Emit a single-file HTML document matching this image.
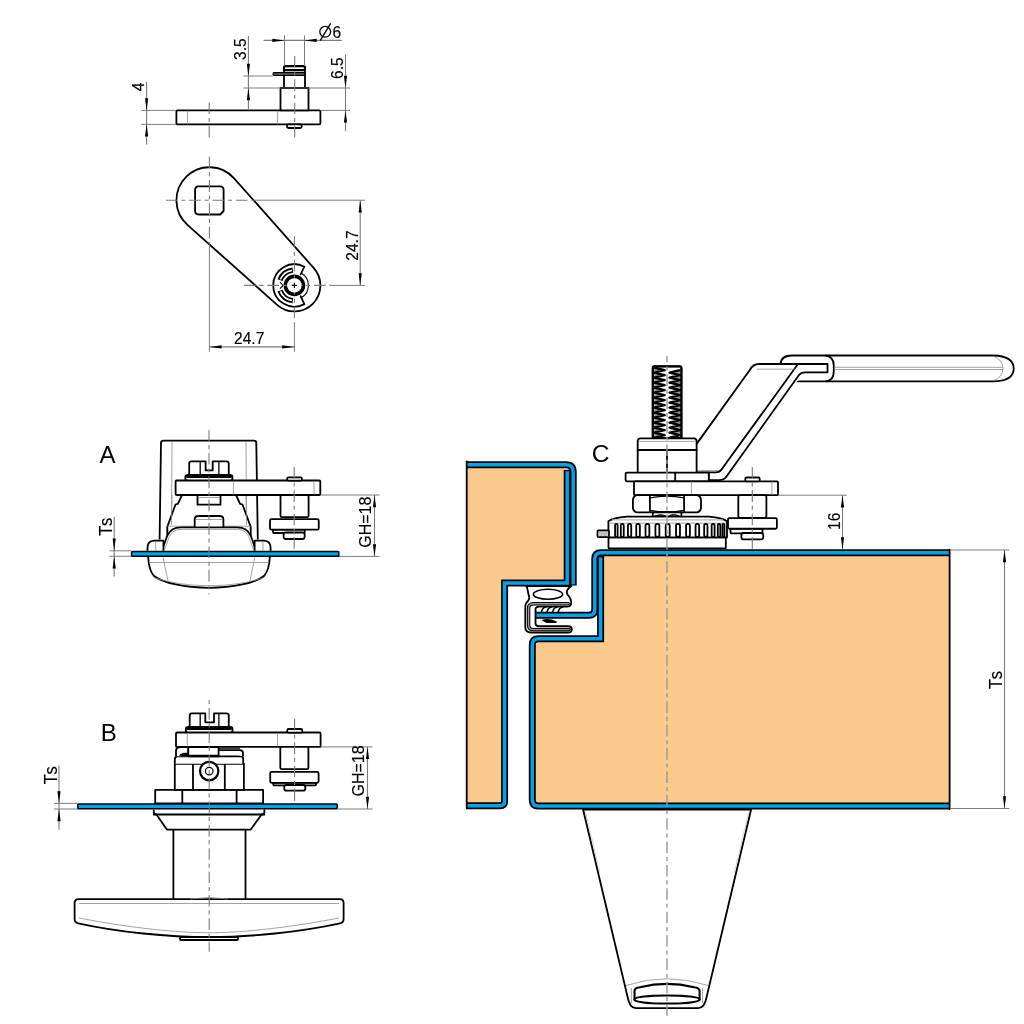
<!DOCTYPE html>
<html><head><meta charset="utf-8"><title>Latch drawing</title><style>
html,body{margin:0;padding:0;background:#fff;width:1024px;height:1024px;overflow:hidden}
svg{display:block;position:absolute;left:0;top:0;will-change:transform}
.k{fill:none;stroke:#000;stroke-width:1.8;stroke-linejoin:round;stroke-linecap:round}
.kt{fill:none;stroke:#000;stroke-width:1.1}
.km{fill:none;stroke:#000;stroke-width:1.3}
.kw{fill:#fff;stroke:#000;stroke-width:1.8;stroke-linejoin:round}
.kws{fill:#fff;stroke:#000;stroke-width:1.8;stroke-linejoin:round}
.kd{fill:#fff;stroke:#000;stroke-width:2.2}
.kg{fill:#666;stroke:#000;stroke-width:1.2}
.kg2{fill:#c8c8c8;stroke:#000;stroke-width:1.7}
.wf{fill:#fff;stroke:none}
.t{fill:none;stroke:#8c8c8c;stroke-width:0.8}
.tl{fill:none;stroke:#cfcfcf;stroke-width:0.8}
.tg{fill:none;stroke:#b5b5b5;stroke-width:1.2}
.d{fill:none;stroke:#7a7a7a;stroke-width:1.1}
.e{fill:none;stroke:#6e6e6e;stroke-width:0.9}
.c{fill:none;stroke:#7a7a7a;stroke-width:1.1;stroke-dasharray:11.6 3.8 4.1 3.86}
.slotb{fill:none;stroke:#000;stroke-width:5.4;stroke-linecap:butt}
.slotw{fill:none;stroke:#fff;stroke-width:1.7}
.ar{fill:#000;stroke:none}
.txs{fill:none;stroke:#000;stroke-width:1.3}
.pl{fill:#02a3ea;stroke:#000;stroke-width:1.5}
.shb{fill:none;stroke:#000;stroke-width:7;stroke-linejoin:miter}
.shc{fill:none;stroke:#02a3ea;stroke-width:3.5;stroke-linejoin:miter}
text{font-family:"Liberation Sans",sans-serif;fill:#000}
.dt{stroke:#000;stroke-width:0.15}
</style></head>
<body><svg width="1024" height="1024" viewBox="0 0 1024 1024">
<rect x="0" y="0" width="1024" height="1024" fill="#fff"/>
<rect class="kw" x="176.4" y="110.4" width="144" height="14" rx="1.2"/>
<line class="t" x1="187.5" y1="110.4" x2="187.5" y2="124.4"/>
<line class="t" x1="277.6" y1="110.4" x2="277.6" y2="124.4"/>
<rect class="kw" x="287" y="124.4" width="14.7" height="3.6" rx="1.5"/>
<rect class="kw" x="280.5" y="88" width="28" height="22.4" rx="0"/>
<rect class="kw" x="284" y="68" width="21" height="20" rx="0"/>
<rect class="kd" x="284" y="66.2" width="21" height="4" rx="1.5"/>
<rect class="kg" x="273" y="72.6" width="32" height="2.8" rx="1.3"/>
<line class="d" x1="146.6" y1="82" x2="146.6" y2="144.4"/>
<line class="e" x1="141.3" y1="110.4" x2="176" y2="110.4"/>
<line class="e" x1="141.3" y1="124.4" x2="176" y2="124.4"/>
<polygon class="ar" points="146.6,110.4 145,98.2 148.2,98.2"/>
<polygon class="ar" points="146.6,124.4 145,136.6 148.2,136.6"/>
<text class="dt" x="0" y="0" font-size="16.91" text-anchor="middle" dominant-baseline="central" transform="translate(137.7,87) rotate(-90) scale(0.92,1)">4</text>
<line class="d" x1="248.4" y1="36" x2="248.4" y2="109"/>
<line class="e" x1="243.3" y1="76" x2="273" y2="76"/>
<line class="e" x1="243.3" y1="88" x2="350" y2="88"/>
<line class="e" x1="320.4" y1="110.4" x2="350" y2="110.4"/>
<polygon class="ar" points="248.4,76 246.8,63.8 250,63.8"/>
<polygon class="ar" points="248.4,88 246.8,100.2 250,100.2"/>
<text class="dt" x="0" y="0" font-size="16.91" text-anchor="middle" dominant-baseline="central" transform="translate(240,49.2) rotate(-90) scale(0.92,1)">3.5</text>
<line class="d" x1="345.5" y1="54.4" x2="345.5" y2="131"/>
<polygon class="ar" points="345.5,88 343.9,75.8 347.1,75.8"/>
<polygon class="ar" points="345.5,110.4 343.9,122.6 347.1,122.6"/>
<text class="dt" x="0" y="0" font-size="16.91" text-anchor="middle" dominant-baseline="central" transform="translate(336.6,68.2) rotate(-90) scale(0.92,1)">6.5</text>
<line class="d" x1="263.6" y1="40.4" x2="341.7" y2="40.4"/>
<line class="e" x1="284.5" y1="35.3" x2="284.5" y2="66"/>
<line class="e" x1="304.5" y1="35.3" x2="304.5" y2="66"/>
<polygon class="ar" points="284.5,40.4 272.3,38.8 272.3,42"/>
<polygon class="ar" points="304.5,40.4 316.7,38.8 316.7,42"/>
<circle class="txs" cx="325.2" cy="31.8" r="5.4"/>
<line class="txs" x1="320.3" y1="40.6" x2="330.6" y2="23.3"/>
<text class="dt" x="0" y="0" font-size="16.91" text-anchor="start" transform="translate(332.4,38.2) scale(0.92,1)">6</text>
<path class="kw" d="M 234.08,178.29 L 313.84,268.14 A 26.0 26.0 0 0 1 277.09,304.8 L 187.43,224.83 A 33.0 33.0 0 1 1 234.08,178.29 Z" />
<path class="k" d="M 198.6,186.3 H 220 Q 223.6,186.3 223.6,190 V 211 L 220.2,214.5 H 198.8 Q 195.1,214.5 195.1,210.8 V 190 Q 195.1,186.3 198.6,186.3 Z" />
<line class="e" x1="252" y1="200.2" x2="365.2" y2="200.2"/>
<line class="e" x1="209.4" y1="244" x2="209.4" y2="351.8"/>
<line class="e" x1="294.4" y1="322.8" x2="294.4" y2="351.8"/>
<line class="e" x1="331" y1="285.4" x2="365.2" y2="285.4"/>
<path class="k" d="M 300.7,274.49 L 304.35,266.68 A 21.2 21.2 0 1 0 304.35,304.12 L 300.7,296.31" />
<path class="kt" d="M 301.4,273.28 A 14 14 0 0 1 301.4,297.52" />
<path class="slotb" d="M 292.8,270.18 A 15.3 15.3 0 0 0 280.02,280.17" />
<path class="slotw" d="M 292.01,270.29 A 15.3 15.3 0 0 0 280.32,279.42" />
<path class="slotb" d="M 292.8,300.62 A 15.3 15.3 0 0 1 280.02,290.63" />
<path class="slotw" d="M 292.01,300.51 A 15.3 15.3 0 0 1 280.32,291.38" />
<path class="kt" d="M 279.9,282.2 L 283.2,285.4 L 279.9,288.6" />
<circle cx="294.4" cy="285.4" r="9" fill="#fff" stroke="#000" stroke-width="3.6"/>
<line class="d" x1="209.4" y1="346.9" x2="294.4" y2="346.9"/>
<polygon class="ar" points="209.4,346.9 221.6,345.3 221.6,348.5"/>
<polygon class="ar" points="294.4,346.9 282.2,345.3 282.2,348.5"/>
<text class="dt" x="0" y="0" font-size="16.91" text-anchor="middle" transform="translate(249.2,344.4) scale(0.92,1)">24.7</text>
<line class="d" x1="360.2" y1="200.2" x2="360.2" y2="285.4"/>
<polygon class="ar" points="360.2,200.2 358.6,212.4 361.8,212.4"/>
<polygon class="ar" points="360.2,285.4 358.6,273.2 361.8,273.2"/>
<text class="dt" x="0" y="0" font-size="16.91" text-anchor="middle" dominant-baseline="central" transform="translate(351.7,245.6) rotate(-90) scale(0.92,1)">24.7</text>
<text x="99.6" y="462.5" font-size="24" text-anchor="start">A</text>
<path class="kw" d="M 159.6,539.4 L 161,443 Q 161,440.6 163.5,440.6 L 254,440.6 Q 256.3,440.6 256.3,443 L 257.8,539.4" />
<line class="t" x1="172" y1="441.5" x2="171.4" y2="539"/>
<line class="t" x1="246" y1="441.5" x2="246.6" y2="539"/>
<path class="wf" d="M 182,495 L 177.9,503.8 L 175.5,504.5 L 167.3,526.9 V 535 L 250.7,535 V 526.9 L 242.5,504.5 L 240.1,503.8 L 236,495 Z" />
<path class="k" d="M 182,495 L 177.9,503.8 L 175.5,504.5 L 167.3,526.9 V 535" />
<path class="k" d="M 236,495 L 240.1,503.8 L 242.5,504.5 L 250.7,526.9 V 535" />
<line class="t" x1="167.3" y1="526.2" x2="250.75" y2="526.2"/>
<line class="t" x1="172" y1="495" x2="171.4" y2="525"/>
<line class="t" x1="246" y1="495" x2="246.6" y2="525"/>
<rect class="kw" x="197.5" y="495" width="23" height="9.7" rx="0"/>
<line class="t" x1="199" y1="497.5" x2="219" y2="497.5"/>
<path class="kw" d="M 194.7,527 V 519.5 Q 194.7,516 198.5,516 H 219.6 Q 223.4,516 223.4,519.5 V 527" />
<line class="t" x1="196" y1="519.5" x2="222" y2="519.5"/>
<path class="kw" d="M 189.2,475 V 463.5 Q 189.2,461.3 191.5,461.3 H 205.6 V 470.3 H 212.7 V 461.3 H 226.5 Q 228.75,461.3 228.75,463.5 V 475" />
<line class="km" x1="200.2" y1="462" x2="200.2" y2="475"/>
<line class="km" x1="218.9" y1="462" x2="218.9" y2="475"/>
<rect class="kw" x="185.3" y="475" width="47.2" height="5.8" rx="2.5"/>
<line class="k" x1="187" y1="477" x2="231" y2="477"/>
<rect class="kw" x="175.6" y="480.5" width="144.7" height="14.5" rx="1"/>
<line class="t" x1="233.4" y1="481" x2="233.4" y2="494.5"/>
<line class="t" x1="314" y1="481" x2="314" y2="494.5"/>
<path class="kw" d="M 162.3,549.5 L 167.3,535.5 C 170.5,529.5 174,527.4 181,527.4 H 237 C 244,527.4 247.5,529.5 250.7,535.5 L 255.7,549.5" />
<path class="t" d="M 164.6,549.5 L 169.4,536.5 C 172.5,531 175.5,529.4 182,529.4 H 236 C 242.5,529.4 245.5,531 248.6,536.5 L 253.4,549.5" />
<path class="kw" d="M 163.4,550.8 V 540.6 H 154 Q 147.5,541 147.5,547.5 V 550.8" />
<line class="t" x1="155.7" y1="541.5" x2="155.7" y2="550.5"/>
<path class="kw" d="M 254.6,550.8 V 540.6 H 264 Q 270.6,541 270.6,547.5 V 550.8" />
<line class="t" x1="263" y1="541.5" x2="263" y2="550.5"/>
<path class="kw" d="M 148.2,557 C 148.6,566 150,571 153.5,575.5 C 162,583 186,587.8 209,587.8 C 232,587.8 256,583 264.5,575.5 C 268,571 269.4,566 269.8,557" />
<line class="t" x1="149" y1="562.5" x2="269" y2="562.5"/>
<path class="t" d="M 153.7,577.5 C 170,583 190,585.7 209,585.7 C 228,585.7 248,583 264.3,577.5" />
<line class="t" x1="163" y1="557.5" x2="168" y2="581"/>
<line class="t" x1="254.8" y1="557.5" x2="250" y2="581"/>
<rect class="pl" x="131.6" y="551.5" width="207.2" height="4.8" rx="0.8"/>
<rect class="kw" x="287.2" y="477.3" width="14.7" height="3.4" rx="1.2"/>
<rect class="kw" x="280.5" y="495" width="28.1" height="22.2" rx="1.5"/>
<rect class="kw" x="273" y="529.5" width="31.7" height="3.5" rx="0.8"/>
<rect class="kw" x="283.6" y="532.5" width="21.1" height="6.5" rx="2.2"/>
<rect class="kw" x="270" y="519.2" width="48.75" height="10.5" rx="1.5"/>
<line class="d" x1="114.2" y1="517" x2="114.2" y2="576.6"/>
<line class="e" x1="109.5" y1="550.8" x2="131.4" y2="550.8"/>
<line class="e" x1="109.5" y1="556.25" x2="131.4" y2="556.25"/>
<polygon class="ar" points="114.2,550.8 112.6,538.6 115.8,538.6"/>
<polygon class="ar" points="114.2,556.25 112.6,568.45 115.8,568.45"/>
<text class="dt" x="0" y="0" font-size="18.03" text-anchor="middle" dominant-baseline="central" letter-spacing="1.6" transform="translate(106,526) rotate(-90) scale(0.92,1)">Ts</text>
<line class="d" x1="374.5" y1="495" x2="374.5" y2="556.4"/>
<line class="e" x1="320.3" y1="495" x2="379.7" y2="495"/>
<line class="e" x1="339" y1="556.4" x2="379.7" y2="556.4"/>
<polygon class="ar" points="374.5,495 372.9,507.2 376.1,507.2"/>
<polygon class="ar" points="374.5,556.4 372.9,544.2 376.1,544.2"/>
<text class="dt" x="0" y="0" font-size="17.36" text-anchor="middle" dominant-baseline="central" transform="translate(365.6,522.2) rotate(-90) scale(0.92,1)">GH=18</text>
<text x="100.7" y="741" font-size="24" text-anchor="start">B</text>
<path class="kw" d="M 78.6,899.1 H 339.6 Q 343.6,899.1 343.6,903 V 919 Q 343.6,922.5 340,923.3 C 300,932 250,937.2 209,937.2 C 168,937.2 118,932 78.2,923.3 Q 74.6,922.5 74.6,919 V 903 Q 74.6,899.1 78.6,899.1 Z" />
<line class="t" x1="79" y1="903.5" x2="339" y2="903.5"/>
<path class="t" d="M 79,918 C 120,926 170,932.8 209,932.8 C 248,932.8 298,926 339,918" />
<rect class="kw" x="180" y="937" width="58" height="3" rx="1"/>
<line class="k" x1="173.4" y1="829.7" x2="173.4" y2="899"/>
<line class="k" x1="245.5" y1="829.7" x2="245.5" y2="899"/>
<path class="t" d="M 190,899 Q 209,896 228,899" />
<path class="kw" d="M 153.75,809.5 V 812 Q 153.75,814.5 156.5,814.5 L 167,829.7 H 250.6 L 261.6,814.5 Q 264.4,814.5 264.4,812 V 809.5" />
<line class="k" x1="153.75" y1="814.5" x2="264.4" y2="814.5"/>
<rect class="kw" x="155.2" y="789.8" width="107.9" height="13.6" rx="0"/>
<line class="k" x1="182.3" y1="789.8" x2="182.3" y2="803.4"/>
<line class="k" x1="236.6" y1="789.8" x2="236.6" y2="803.4"/>
<rect class="kw" x="174.8" y="763.75" width="69.1" height="26.05" rx="0"/>
<line class="k" x1="193" y1="763.75" x2="193" y2="789.8"/>
<line class="k" x1="224.8" y1="763.75" x2="224.8" y2="789.8"/>
<path class="kw" d="M 174.8,763.7 V 759.5 Q 174.8,756.3 178,756.3 H 241 Q 243.2,756.3 243.2,759 V 763.7" />
<path class="kw" d="M 176,756.3 V 751 Q 176,747 180.5,747 H 188.3 V 756.3" />
<path class="k" d="M 180,754.8 Q 183,752.6 188,753.2 V 756 H 181 Z"  style="fill:#000;stroke-width:1"/>
<rect class="kw" x="188.3" y="747" width="30.3" height="9.3" rx="0"/>
<line class="k" x1="188.3" y1="755.6" x2="218.6" y2="755.6"/>
<path class="kw" d="M 218.6,750.1 H 239.5 Q 243,750.3 243,753 V 756.3" />
<line class="kt" x1="218.6" y1="748.2" x2="240" y2="748.2"/>
<circle cx="209.2" cy="771.1" r="9.2" fill="#fff" stroke="#000" stroke-width="2.2"/>
<circle cx="209.2" cy="771.1" r="3.8" fill="none" stroke="#000" stroke-width="1.2"/>
<path class="kw" d="M 189.7,727 V 715.5 Q 189.7,713.4 192,713.4 H 205.3 V 722.3 H 214 V 713.4 H 226.5 Q 228.75,713.4 228.75,715.5 V 727" />
<line class="km" x1="200.2" y1="714" x2="200.2" y2="727"/>
<line class="km" x1="218.9" y1="714" x2="218.9" y2="727"/>
<rect class="kw" x="185.8" y="727" width="46.8" height="5.8" rx="2.5"/>
<line class="k" x1="187.5" y1="729" x2="231" y2="729"/>
<rect class="kw" x="176" y="732.5" width="144.6" height="14.4" rx="1"/>
<line class="t" x1="187.3" y1="733" x2="187.3" y2="746.5"/>
<line class="t" x1="277.5" y1="733" x2="277.5" y2="746.5"/>
<rect class="pl" x="77.7" y="804" width="259.5" height="4.7" rx="0.8"/>
<rect class="kw" x="287.3" y="729" width="14.9" height="3.7" rx="1.2"/>
<rect class="kw" x="280.3" y="746.9" width="28.1" height="22.3" rx="1.5"/>
<rect class="kw" x="273.3" y="782.5" width="42.7" height="2.8" rx="0.8"/>
<rect class="kw" x="284.2" y="785" width="21.1" height="5.6" rx="2.2"/>
<rect class="kw" x="270.2" y="771.9" width="48.4" height="10.9" rx="1.5"/>
<line class="d" x1="59" y1="765.6" x2="59" y2="829.7"/>
<line class="e" x1="54" y1="803.4" x2="77.5" y2="803.4"/>
<line class="e" x1="54" y1="809" x2="77.5" y2="809"/>
<polygon class="ar" points="59,803.4 57.4,791.2 60.6,791.2"/>
<polygon class="ar" points="59,809 57.4,821.2 60.6,821.2"/>
<text class="dt" x="0" y="0" font-size="18.03" text-anchor="middle" dominant-baseline="central" letter-spacing="1.6" transform="translate(50.5,774.6) rotate(-90) scale(0.92,1)">Ts</text>
<line class="d" x1="367.5" y1="746.9" x2="367.5" y2="809"/>
<line class="e" x1="320.6" y1="746.9" x2="372.5" y2="746.9"/>
<line class="e" x1="337.4" y1="809" x2="372.5" y2="809"/>
<polygon class="ar" points="367.5,746.9 365.9,759.1 369.1,759.1"/>
<polygon class="ar" points="367.5,809 365.9,796.8 369.1,796.8"/>
<text class="dt" x="0" y="0" font-size="17.36" text-anchor="middle" dominant-baseline="central" transform="translate(358.7,770.9) rotate(-90) scale(0.92,1)">GH=18</text>
<text x="591.8" y="462.4" font-size="24.5" text-anchor="start">C</text>
<polygon fill="#fbc98c" points="466.7,467 564.2,467 564.2,580.5 501.5,580.5 501.5,803 466.7,803"/>
<path class="shb" d="M 466.7,464.8 H 566 Q 573.2,464.8 573.2,472 V 585.6" />
<path class="shc" d="M 466.7,464.8 H 566 Q 573.2,464.8 573.2,472 V 584.4" />
<path class="shb" d="M 567.2,469.8 V 582.9 H 504.6 V 801 Q 504.6,805.7 499.9,805.7 H 466.7" />
<path class="shc" d="M 567.2,471.2 V 582.9 H 504.6 V 801 Q 504.6,805.7 499.9,805.7 H 466.7" />
<line class="k" x1="466.7" y1="461.5" x2="466.7" y2="808.3"/>
<polygon fill="#fbc98c" points="604,555.5 949.6,555.5 949.6,803 535,803 535,647 538,641.5 604,641.5"/>
<path class="shb" d="M 600.6,556 V 638.8 H 538.5 Q 532.3,638.8 532.3,645 V 800 Q 532.3,806 538.3,806 H 949.6" />
<path class="shc" d="M 600.6,557.5 V 638.8 H 538.5 Q 532.3,638.8 532.3,645 V 800 Q 532.3,806 538.3,806 H 949.6" />
<path class="shb" d="M 949.6,552.7 H 601 Q 594.8,552.7 594.8,558.9 V 609.5 Q 594.8,615.3 589,615.3 H 535" />
<path class="shc" d="M 949.6,552.7 H 601 Q 594.8,552.7 594.8,558.9 V 609.5 Q 594.8,615.3 589,615.3 H 536" />
<line class="k" x1="949.6" y1="549.6" x2="949.6" y2="809"/>
<path class="kws" d="M 526,586 H 571.4 C 567,589 566,592 567.5,594.5 C 570,597.5 571.5,600 571.2,603 Q 571,606.7 567,606.7 H 539 Q 535.5,606.7 535.5,610 V 623 Q 535.5,626.25 539,626.25 H 568 Q 571.8,626.25 571.8,629.4 Q 571.8,632.5 568,632.5 H 531 Q 525.3,632.5 525.3,627 V 607 Q 525.3,603 528,601 C 530,598 529.5,596 528.4,594 C 527.5,591.5 528.5,588 526,586 Z" />
<ellipse cx="548" cy="594.2" rx="14.6" ry="5" fill="#fff" stroke="#000" stroke-width="1.6"/>
<path d="M 568.2,603.8 H 533.4 Q 528.6,603.8 528.6,608.6 V 624.9 Q 528.6,629.6 533.4,629.6 H 569.2" fill="none" stroke="#000" stroke-width="3.4" stroke-linecap="round"/>
<path d="M 568.2,603.8 H 533.4 Q 528.6,603.8 528.6,608.6 V 624.9 Q 528.6,629.6 533.4,629.6 H 569.2" fill="none" stroke="#9c9c9c" stroke-width="1.4" stroke-linecap="round"/>
<path class="k" d="M 541.5,611.6 Q 542.5,607.5 545.7,607.2"  style="stroke-width:1.6"/>
<path class="k" d="M 547.1,611.6 Q 548.1,607.5 551.3,607.2"  style="stroke-width:1.6"/>
<path class="k" d="M 552.7,611.6 Q 553.7,607.5 556.9,607.2"  style="stroke-width:1.6"/>
<path class="k" d="M 558.3,611.6 Q 559.3,607.5 562.5,607.2"  style="stroke-width:1.6"/>
<path class="k" d="M 543,620.3 Q 550,619 556,622.2 L 547,622.2 Z"  style="fill:#000"/>
<path class="kw" d="M 583.1,809.5 L 627.6,997 Q 629.6,1008.2 636,1008.2 H 698.2 Q 704.6,1008.2 706.6,997 L 751.1,809.5" />
<line class="k" x1="583.1" y1="809.6" x2="751.1" y2="809.6"/>
<line class="tl" x1="585.3" y1="811" x2="600" y2="873"/>
<line class="tl" x1="748.9" y1="811" x2="734.2" y2="873"/>
<path class="t" d="M 626,985.5 Q 667,972 708.2,985.5" />
<path class="k" d="M 634.5,999.5 V 991 Q 634.5,987.8 640,987.2 Q 667,980.5 694,987.2 Q 699.6,987.8 699.6,991 V 999.5"  style="stroke-width:2.1"/>
<ellipse cx="667" cy="999.5" rx="32.6" ry="4.1" fill="none" stroke="#000" stroke-width="2"/>
<line class="t" x1="631.4" y1="988" x2="631.4" y2="1003"/>
<line class="t" x1="702.6" y1="988" x2="702.6" y2="1003"/>
<path class="kw" d="M 780.6,364 Q 781,355.5 792,355.5 H 993 Q 1013.7,356 1013.7,368.4 Q 1013.7,381 993,381.3 H 794" />
<path class="k" d="M 826,355.5 Q 833.8,357 833.8,366 V 371 Q 833.8,380.5 826,381.3" />
<line class="t" x1="834" y1="367.3" x2="1003" y2="367.3"/>
<line class="t" x1="834" y1="369.5" x2="1003" y2="369.5"/>
<path class="t" d="M 993,356 Q 1003,360 1003,368.4 Q 1003,377 993,381" />
<path class="wf" d="M 697,443.4 L 749.8,370 Q 753,364 759,364 H 827.5 V 372.3 H 804 L 726,478 Q 724,480.2 720,480.2 H 708.75 V 472.3 H 697 Z" />
<path class="k" d="M 697,443.4 L 749.8,370 Q 753,364 759,364 H 827.5 V 372.3 H 805 Q 801,372.3 799,375 L 726.5,476.5 Q 724,480.2 719,480.2 H 708.75 V 472.3" />
<path class="k" d="M 797.8,364.3 L 721.5,469.5 Q 719.7,472.3 716,472.3 H 697" />
<line class="t" x1="757" y1="369.2" x2="795" y2="369.2"/>
<line class="t" x1="697.5" y1="470.6" x2="719" y2="470.6"/>
<rect class="kw" x="652.8" y="366.4" width="28.6" height="72.1" rx="1.5"/>
<polygon fill="#9a9a9a" points="654.2,368.2 661.6,370.1 654.2,372"/>
<polygon fill="#9a9a9a" points="654.2,373.2 661.6,375.1 654.2,377"/>
<polygon fill="#9a9a9a" points="654.2,378.2 661.6,380.1 654.2,382"/>
<polygon fill="#9a9a9a" points="654.2,383.2 661.6,385.1 654.2,387"/>
<polygon fill="#9a9a9a" points="654.2,388.2 661.6,390.1 654.2,392"/>
<polygon fill="#9a9a9a" points="654.2,393.2 661.6,395.1 654.2,397"/>
<polygon fill="#9a9a9a" points="654.2,398.2 661.6,400.1 654.2,402"/>
<polygon fill="#9a9a9a" points="654.2,403.2 661.6,405.1 654.2,407"/>
<polygon fill="#9a9a9a" points="654.2,408.2 661.6,410.1 654.2,412"/>
<polygon fill="#9a9a9a" points="654.2,413.2 661.6,415.1 654.2,417"/>
<polygon fill="#9a9a9a" points="654.2,418.2 661.6,420.1 654.2,422"/>
<polygon fill="#9a9a9a" points="654.2,423.2 661.6,425.1 654.2,427"/>
<polygon fill="#9a9a9a" points="654.2,428.2 661.6,430.1 654.2,432"/>
<polygon fill="#9a9a9a" points="654.2,433.2 661.6,435.1 654.2,437"/>
<polygon fill="#9a9a9a" points="680,370.7 672.6,372.6 680,374.5"/>
<polygon fill="#9a9a9a" points="680,375.7 672.6,377.6 680,379.5"/>
<polygon fill="#9a9a9a" points="680,380.7 672.6,382.6 680,384.5"/>
<polygon fill="#9a9a9a" points="680,385.7 672.6,387.6 680,389.5"/>
<polygon fill="#9a9a9a" points="680,390.7 672.6,392.6 680,394.5"/>
<polygon fill="#9a9a9a" points="680,395.7 672.6,397.6 680,399.5"/>
<polygon fill="#9a9a9a" points="680,400.7 672.6,402.6 680,404.5"/>
<polygon fill="#9a9a9a" points="680,405.7 672.6,407.6 680,409.5"/>
<polygon fill="#9a9a9a" points="680,410.7 672.6,412.6 680,414.5"/>
<polygon fill="#9a9a9a" points="680,415.7 672.6,417.6 680,419.5"/>
<polygon fill="#9a9a9a" points="680,420.7 672.6,422.6 680,424.5"/>
<polygon fill="#9a9a9a" points="680,425.7 672.6,427.6 680,429.5"/>
<polygon fill="#9a9a9a" points="680,430.7 672.6,432.6 680,434.5"/>
<polyline fill="none" stroke="#000" stroke-width="2.5" stroke-linejoin="round" points="654.2,367.6 664.6,370.1 654.2,372.6 664.6,375.1 654.2,377.6 664.6,380.1 654.2,382.6 664.6,385.1 654.2,387.6 664.6,390.1 654.2,392.6 664.6,395.1 654.2,397.6 664.6,400.1 654.2,402.6 664.6,405.1 654.2,407.6 664.6,410.1 654.2,412.6 664.6,415.1 654.2,417.6 664.6,420.1 654.2,422.6 664.6,425.1 654.2,427.6 664.6,430.1 654.2,432.6 664.6,435.1 654.2,437.6"/>
<polyline fill="none" stroke="#000" stroke-width="2.5" stroke-linejoin="round" points="680,370.1 669.6,372.6 680,375.1 669.6,377.6 680,380.1 669.6,382.6 680,385.1 669.6,387.6 680,390.1 669.6,392.6 680,395.1 669.6,397.6 680,400.1 669.6,402.6 680,405.1 669.6,407.6 680,410.1 669.6,412.6 680,415.1 669.6,417.6 680,420.1 669.6,422.6 680,425.1 669.6,427.6 680,430.1 669.6,432.6 680,435.1 669.6,437.6"/>
<rect x="652.8" y="366.4" width="28.6" height="72" rx="1.5" fill="none" stroke="#000" stroke-width="2.2"/>
<path class="kw" d="M 637.7,472.7 V 441 Q 637.7,438.3 640.5,438.3 H 693.8 Q 696.6,438.3 696.6,441 V 472.7" />
<line class="k" x1="637.7" y1="450" x2="696.6" y2="450"/>
<line class="t" x1="638.5" y1="441.4" x2="696" y2="441.4"/>
<line class="k" x1="667" y1="450" x2="667" y2="472.7"/>
<rect class="kw" x="625.6" y="472.7" width="83.15" height="8.6" rx="1.2"/>
<line class="k" x1="675.2" y1="472.7" x2="675.2" y2="481.3"/>
<rect class="kw" x="634" y="481.3" width="144" height="13.9" rx="1"/>
<line class="t" x1="691.4" y1="481.5" x2="691.4" y2="495"/>
<line class="t" x1="771.9" y1="481.5" x2="771.9" y2="495"/>
<rect class="kw" x="745.3" y="477.5" width="14.4" height="3.8" rx="1.2"/>
<rect class="kw" x="738.3" y="495.2" width="28.1" height="22.6" rx="1.5"/>
<rect class="kw" x="730.5" y="528.5" width="32" height="4.9" rx="0.8"/>
<rect class="kw" x="741.4" y="533" width="21.9" height="6.4" rx="2.2"/>
<rect class="kw" x="728" y="518.1" width="48.9" height="10.65" rx="1.5"/>
<path class="kw" d="M 636.5,495.2 H 697.4 Q 701,496.5 701,500.5 V 507.2 Q 701,511.2 697.4,512.4 H 636.5 Q 632.9,511.2 632.9,507.2 V 500.5 Q 632.9,496.5 636.5,495.2 Z" />
<line class="k" x1="649.9" y1="495.8" x2="649.9" y2="511.8"/>
<line class="k" x1="684.1" y1="495.8" x2="684.1" y2="511.8"/>
<path class="k" d="M 650,497.8 Q 667,494.6 684,497.8"  style="stroke-width:1.3"/>
<path class="k" d="M 650,510.4 Q 667,513.6 684,510.4"  style="stroke-width:1.3"/>
<rect class="kw" x="652.8" y="512.4" width="28.6" height="4.6" rx="0"/>
<path class="k" d="M 655,515.8 Q 661,513.4 665.5,515.8 Z"  style="fill:#777;stroke-width:1"/>
<path class="k" d="M 669,515.8 Q 673,513.4 679,515.8 Z"  style="fill:#777;stroke-width:1"/>
<rect class="kw" x="608.5" y="537.4" width="117.3" height="11" rx="1"/>
<path class="kw" d="M 608.4,537.4 V 521.3 Q 613,517.8 626.7,516.7 H 709 Q 722.5,517.8 727,521.3 V 537.4 Z" />
<line class="tg" x1="612" y1="519.8" x2="723" y2="519.8"/>
<line class="t" x1="610" y1="523.2" x2="726" y2="523.2"/>
<rect x="615.09" y="523.8" width="2.5" height="13.2" rx="1.25" fill="#fff" stroke="#000" stroke-width="1.8"/>
<rect x="620.81" y="523.8" width="2.93" height="13.2" rx="1.46" fill="#fff" stroke="#000" stroke-width="1.8"/>
<rect x="627.93" y="523.8" width="3.3" height="13.2" rx="1.65" fill="#fff" stroke="#000" stroke-width="1.8"/>
<rect x="636.25" y="523.8" width="3.6" height="13.2" rx="1.8" fill="#fff" stroke="#000" stroke-width="1.8"/>
<rect x="645.51" y="523.8" width="3.82" height="13.2" rx="1.91" fill="#fff" stroke="#000" stroke-width="1.8"/>
<rect x="655.43" y="523.8" width="3.95" height="13.2" rx="1.98" fill="#fff" stroke="#000" stroke-width="1.8"/>
<rect x="665.7" y="523.8" width="4" height="13.2" rx="2" fill="#fff" stroke="#000" stroke-width="1.8"/>
<rect x="676.02" y="523.8" width="3.95" height="13.2" rx="1.98" fill="#fff" stroke="#000" stroke-width="1.8"/>
<rect x="686.07" y="523.8" width="3.82" height="13.2" rx="1.91" fill="#fff" stroke="#000" stroke-width="1.8"/>
<rect x="695.55" y="523.8" width="3.6" height="13.2" rx="1.8" fill="#fff" stroke="#000" stroke-width="1.8"/>
<rect x="704.17" y="523.8" width="3.3" height="13.2" rx="1.65" fill="#fff" stroke="#000" stroke-width="1.8"/>
<rect x="711.66" y="523.8" width="2.93" height="13.2" rx="1.46" fill="#fff" stroke="#000" stroke-width="1.8"/>
<rect x="717.81" y="523.8" width="2.5" height="13.2" rx="1.25" fill="#fff" stroke="#000" stroke-width="1.8"/>
<rect x="722.41" y="523.8" width="2.03" height="13.2" rx="1.01" fill="#fff" stroke="#000" stroke-width="1.8"/>
<rect class="kg2" x="597.4" y="530.4" width="11.6" height="6.7" rx="1.2"/>
<line class="tg" x1="601.5" y1="531.5" x2="601.5" y2="536"/>
<line class="tg" x1="605" y1="531.5" x2="605" y2="536"/>
<line class="d" x1="842.5" y1="495.2" x2="842.5" y2="549.4"/>
<line class="e" x1="778" y1="495.2" x2="846.9" y2="495.2"/>
<polygon class="ar" points="842.5,495.2 840.9,507.4 844.1,507.4"/>
<polygon class="ar" points="842.5,549.4 840.9,537.2 844.1,537.2"/>
<text class="dt" x="0" y="0" font-size="16.91" text-anchor="middle" dominant-baseline="central" transform="translate(833.4,521.3) rotate(-90) scale(0.92,1)">16</text>
<line class="d" x1="1004.5" y1="550" x2="1004.5" y2="808.5"/>
<line class="e" x1="950" y1="550" x2="1009.4" y2="550"/>
<line class="e" x1="950" y1="808.5" x2="1009.4" y2="808.5"/>
<polygon class="ar" points="1004.5,550 1002.9,562.2 1006.1,562.2"/>
<polygon class="ar" points="1004.5,808.5 1002.9,796.3 1006.1,796.3"/>
<text class="dt" x="0" y="0" font-size="18.03" text-anchor="middle" dominant-baseline="central" letter-spacing="1.6" transform="translate(996,679.3) rotate(-90) scale(0.92,1)">Ts</text>
<line class="c" x1="209.2" y1="102.5" x2="209.2" y2="137.4"/>
<line class="c" x1="294.7" y1="56" x2="294.7" y2="137.5"/>
<line class="c" x1="165.8" y1="200.2" x2="252" y2="200.2"/>
<line class="c" x1="209.4" y1="156.7" x2="209.4" y2="244"/>
<line class="c" x1="294.4" y1="236.5" x2="294.4" y2="322.8"/>
<line class="c" x1="244" y1="285.4" x2="331" y2="285.4"/>
<line class="c" x1="209" y1="430" x2="209" y2="594.5" style="stroke-dashoffset:0.36"/>
<line class="c" x1="294.2" y1="467" x2="294.2" y2="549"/>
<line class="c" x1="209.2" y1="698" x2="209.2" y2="951.8" style="stroke-dashoffset:13.32"/>
<line class="c" x1="294.6" y1="719" x2="294.6" y2="801"/>
<line class="c" x1="667" y1="356" x2="667" y2="1016" style="stroke-dashoffset:5.0;stroke:#999;stroke-width:1.4"/>
<line class="c" x1="752.3" y1="467" x2="752.3" y2="549"/>
<circle cx="294.4" cy="285.4" r="7" fill="#fff"/>
<path d="M 291.8,285.4 H 297 M 294.4,282.8 V 288" fill="none" stroke="#000" stroke-width="1.1"/>
</svg></body></html>
